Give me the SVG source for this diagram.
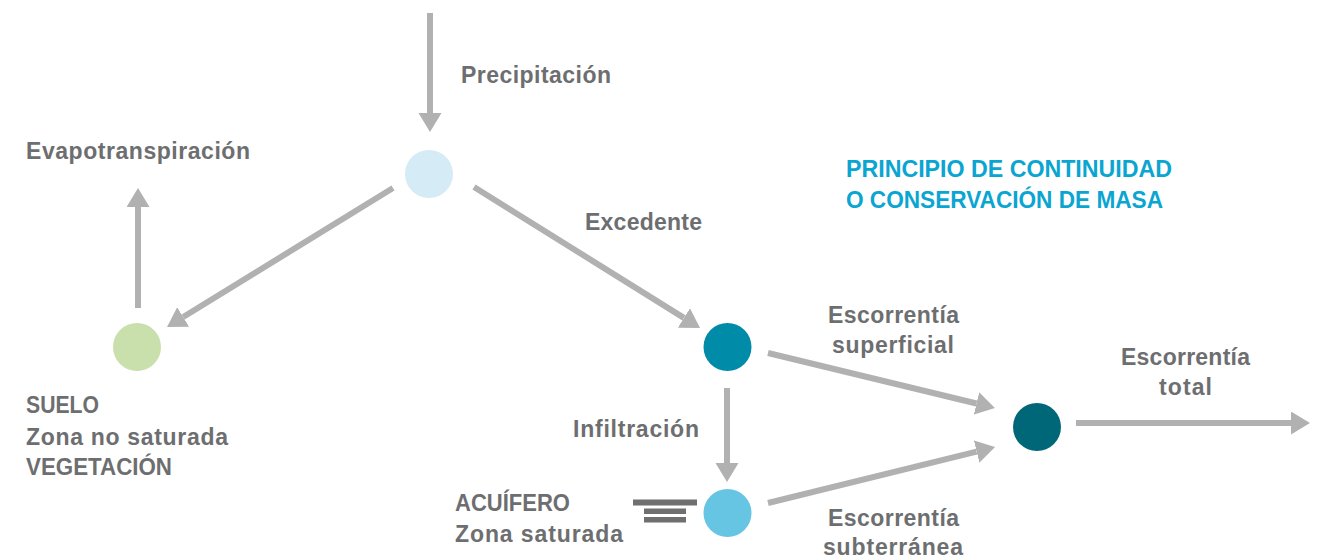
<svg xmlns="http://www.w3.org/2000/svg" width="1326" height="560" viewBox="0 0 1326 560">
<style>
.lbl{font-family:"Liberation Sans",Arial,sans-serif;font-weight:bold;font-size:23px;fill:#6d6e70}
.ttl{font-family:"Liberation Sans",Arial,sans-serif;font-weight:bold;font-size:23px;fill:#0aa5d1}
.arr{stroke:#b1b1b1;stroke-width:6;fill:none;marker-end:url(#ah)}
.bar{fill:#6f6f6f}
</style>
<defs>
<marker id="ah" markerUnits="userSpaceOnUse" markerWidth="20" markerHeight="24" refX="0" refY="11.5" orient="auto" viewBox="0 0 20 24">
<path d="M0,0 L19,11.5 L0,23 z" fill="#b1b1b1"/>
</marker>
</defs>
<rect width="1326" height="560" fill="#ffffff"/>
<g id="connectors">
<line class="arr" x1="430" y1="13" x2="430" y2="113"/>
<line class="arr" x1="138" y1="308" x2="138" y2="207"/>
<line class="arr" x1="393" y1="188" x2="183.2" y2="317"/>
<line class="arr" x1="474" y1="187" x2="683.9" y2="317.9"/>
<line class="arr" x1="768" y1="353" x2="976.5" y2="403.5"/>
<line class="arr" x1="768" y1="503" x2="976.6" y2="451.6"/>
<line class="arr" x1="727" y1="388" x2="727" y2="463"/>
<line class="arr" x1="1076" y1="423" x2="1291" y2="423"/>
</g>
<g id="node-precipitacion">
<circle cx="429" cy="174" r="24" fill="#d5ebf6"/>
</g>
<g id="node-suelo">
<circle cx="137" cy="347" r="24" fill="#c9dfac"/>
<text class="lbl" x="26" y="413" textLength="73" lengthAdjust="spacingAndGlyphs">SUELO</text>
<text class="lbl" x="26" y="445" textLength="202" lengthAdjust="spacing">Zona no saturada</text>
<text class="lbl" x="26" y="475" textLength="146" lengthAdjust="spacingAndGlyphs">VEGETACIÓN</text>
</g>
<g id="node-excedente">
<circle cx="727.5" cy="347" r="24" fill="#008ba8"/>
</g>
<g id="node-acuifero">
<circle cx="727.5" cy="513" r="24" fill="#66c5e3"/>
<rect class="bar" x="633" y="499.5" width="64" height="6"/>
<rect class="bar" x="644" y="508.5" width="42" height="5.5"/>
<rect class="bar" x="644" y="517" width="42" height="5.5"/>
<text class="lbl" x="455" y="511" textLength="115" lengthAdjust="spacingAndGlyphs">ACUÍFERO</text>
<text class="lbl" x="455" y="542" textLength="168" lengthAdjust="spacing">Zona saturada</text>
</g>
<g id="node-total">
<circle cx="1037" cy="427" r="24" fill="#006778"/>
</g>
<g id="labels">
<text class="lbl" x="461" y="83" textLength="150" lengthAdjust="spacing">Precipitación</text>
<text class="lbl" x="26" y="159" textLength="224" lengthAdjust="spacing">Evapotranspiración</text>
<text class="lbl" x="585" y="230" textLength="117" lengthAdjust="spacing">Excedente</text>
<text class="lbl" x="828" y="323" textLength="131" lengthAdjust="spacing">Escorrentía</text>
<text class="lbl" x="832" y="353" textLength="122" lengthAdjust="spacing">superficial</text>
<text class="lbl" x="573" y="437" textLength="126" lengthAdjust="spacing">Infiltración</text>
<text class="lbl" x="828" y="526" textLength="131" lengthAdjust="spacing">Escorrentía</text>
<text class="lbl" x="823" y="555" textLength="140" lengthAdjust="spacing">subterránea</text>
<text class="lbl" x="1121" y="365" textLength="129" lengthAdjust="spacing">Escorrentía</text>
<text class="lbl" x="1159" y="395" textLength="53" lengthAdjust="spacing">total</text>
</g>
<g id="title">
<text class="ttl" x="846" y="177" textLength="326" lengthAdjust="spacingAndGlyphs">PRINCIPIO DE CONTINUIDAD</text>
<text class="ttl" x="846" y="208" textLength="317" lengthAdjust="spacingAndGlyphs">O CONSERVACIÓN DE MASA</text>
</g>
</svg>
